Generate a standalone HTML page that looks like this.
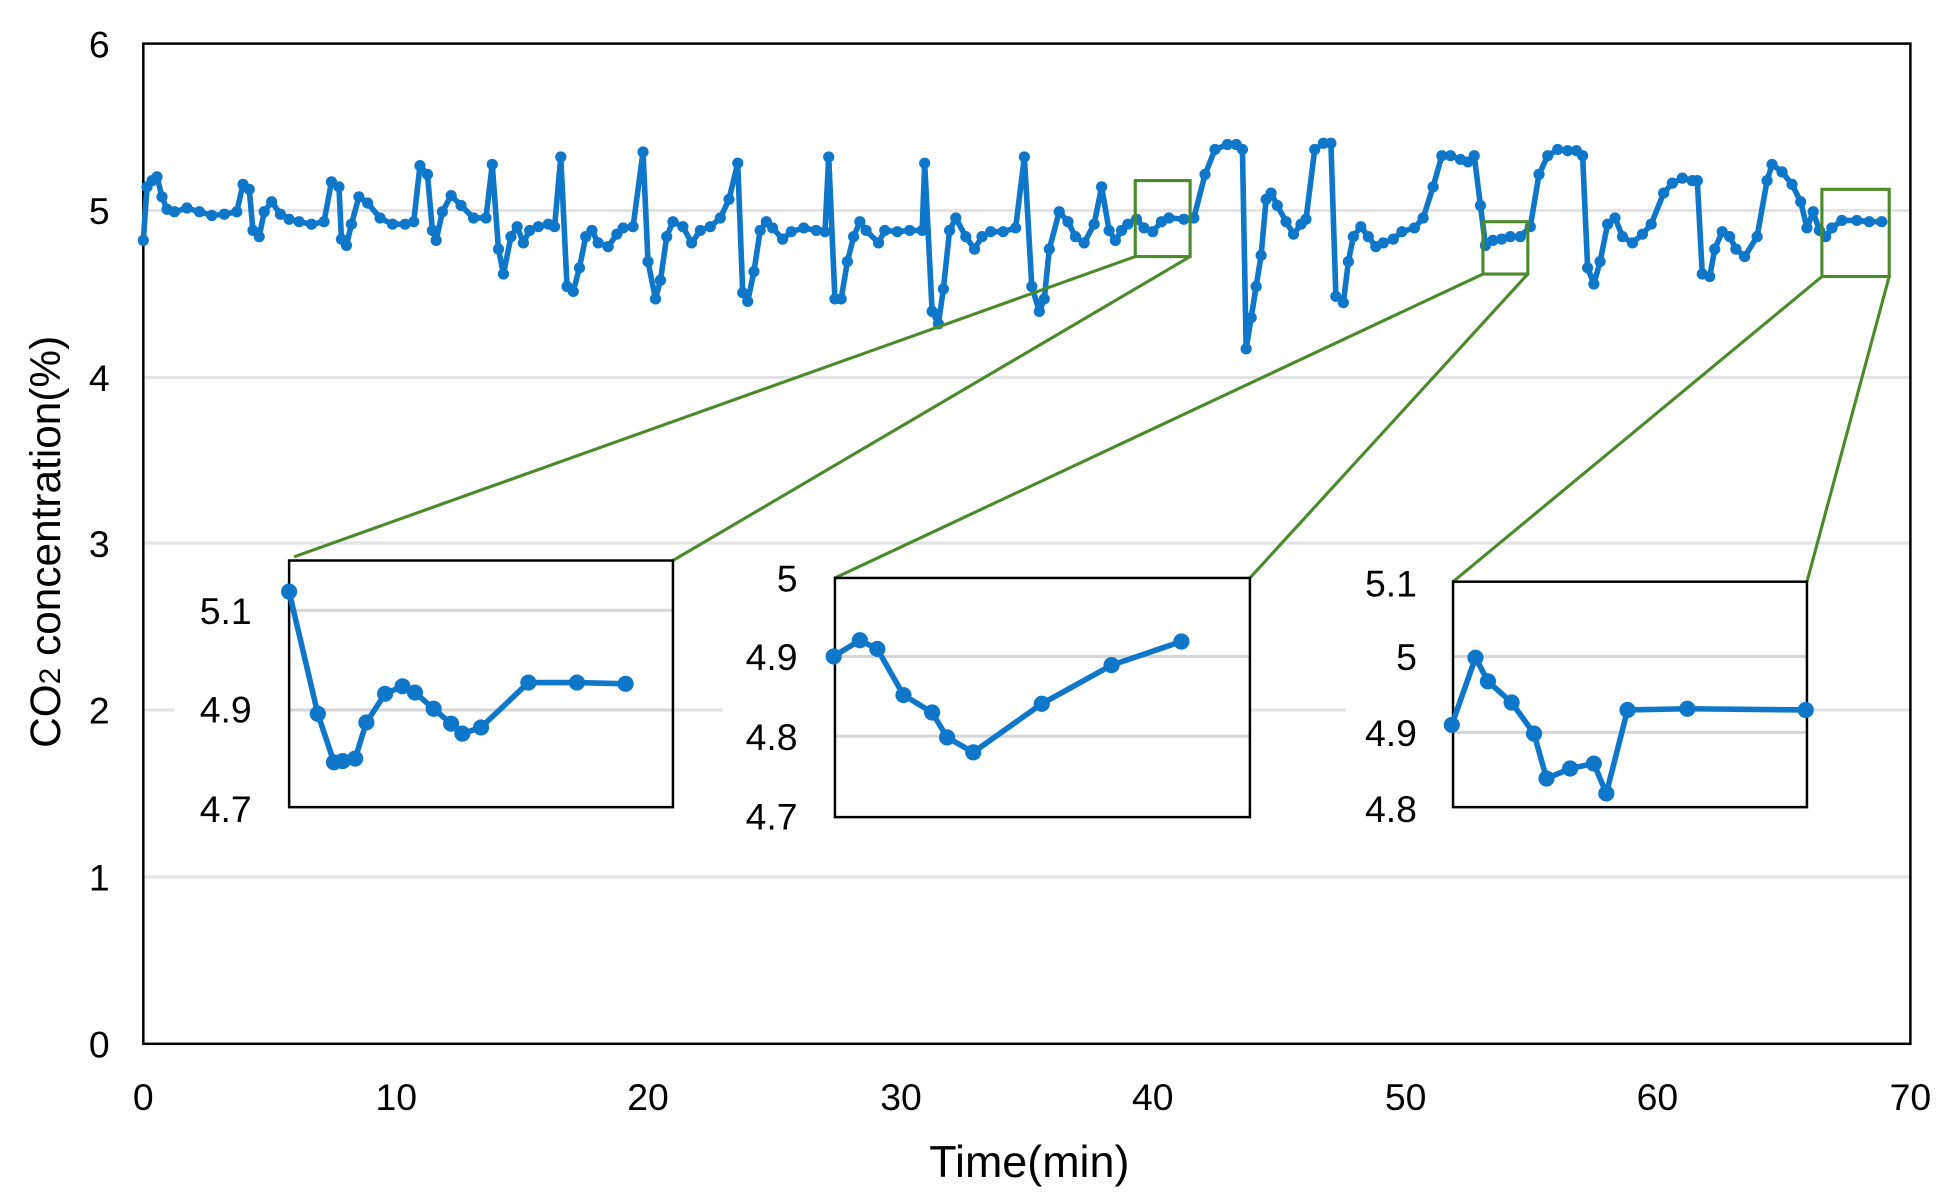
<!DOCTYPE html>
<html><head><style>html,body{margin:0;padding:0;background:#fff}svg{display:block}</style></head><body>
<svg width="1954" height="1202" viewBox="0 0 1568 965" preserveAspectRatio="none" xmlns="http://www.w3.org/2000/svg" font-family="'Liberation Sans',sans-serif">
<defs>
<marker id="m" markerUnits="userSpaceOnUse" markerWidth="12" markerHeight="12" refX="6" refY="6" viewBox="0 0 12 12"><circle cx="6" cy="6" r="4.5" fill="#0f77c9"/></marker>
<marker id="mb" markerUnits="userSpaceOnUse" markerWidth="16" markerHeight="16" refX="8" refY="8" viewBox="0 0 16 16"><circle cx="8" cy="8" r="6.5" fill="#0f77c9"/></marker>
</defs>
<rect width="1568" height="965" fill="#fff"/>
<g stroke="#e3e3e3" stroke-width="2.5">
<line x1="115" y1="704" x2="1533" y2="704"/><line x1="115" y1="570" x2="1533" y2="570"/><line x1="115" y1="436" x2="1533" y2="436"/><line x1="115" y1="303" x2="1533" y2="303"/><line x1="115" y1="169" x2="1533" y2="169"/>
</g>
<rect x="115" y="35" width="1418" height="803" fill="none" stroke="#000" stroke-width="2"/>
<g font-size="30" fill="#000" text-anchor="end">
<text x="88" y="849">0</text><text x="88" y="715">1</text><text x="88" y="581">2</text><text x="88" y="447">3</text><text x="88" y="314">4</text><text x="88" y="180">5</text><text x="88" y="46">6</text>
</g>
<g font-size="30" fill="#000" text-anchor="middle">
<text x="115" y="891">0</text><text x="318" y="891">10</text><text x="520" y="891">20</text><text x="723" y="891">30</text><text x="925" y="891">40</text><text x="1128" y="891">50</text><text x="1330" y="891">60</text><text x="1533" y="891">70</text>
</g>
<text x="826" y="945" font-size="36" text-anchor="middle">Time(min)</text>
<text transform="translate(48,435) rotate(-90)" font-size="34" text-anchor="middle">CO<tspan font-size="24">2</tspan> concentration(%)</text>
<polyline fill="none" stroke="#0f77c9" stroke-width="4.5" stroke-linejoin="round" marker-start="url(#m)" marker-mid="url(#m)" marker-end="url(#m)" points="115,193 118,150 122,145 126,142 130,158 134,168 140,170 150,167 160,170 170,173 180,172 190,170 195,148 200,152 203,185 208,190 212,170 218,162 225,172 232,176 240,178 250,180 260,178 266,146 272,150 274,192 278,197 282,180 288,158 295,163 305,175 315,180 325,180 332,178 337,133 343,140 347,185 350,193 355,170 362,157 370,165 380,175 390,175 395,132 400,200 404,220 410,190 415,182 420,195 425,185 432,182 440,180 445,182 450,126 455,230 460,234 465,215 470,190 475,185 480,195 488,198 495,188 500,183 508,182 516,122 520,210 526,240 530,225 535,190 540,178 548,182 555,195 562,185 570,182 578,175 585,160 592,131 596,235 600,242 605,218 610,185 615,178 620,183 628,192 635,186 645,183 655,185 662,186 665,126 670,240 675,240 680,210 685,190 690,178 695,185 705,195 710,185 720,186 730,185 740,185 742,131 748,250 753,260 757,232 762,185 767,175 775,190 782,200 788,190 795,186 805,186 815,183 822,126 828,230 834,250 838,240 842,200 850,170 857,178 863,190 870,195 878,180 884,150 890,185 895,193 900,185 905,180 912,176 918,183 925,186 932,178 938,175 950,176 958,175 967,140 975,120 985,116 992,116 997,120 1000,280 1004,255 1008,230 1012,205 1016,160 1020,155 1025,165 1032,178 1038,188 1044,180 1048,176 1055,120 1062,115 1068,115 1072,238 1078,243 1082,210 1086,190 1092,182 1098,190 1104,198 1110,195 1118,192 1125,186 1135,183 1142,175 1150,150 1157,125 1164,125 1172,128 1178,130 1183,125 1188,165 1192,197 1198,193 1205,192 1212,190 1220,190 1228,182 1235,140 1242,125 1250,120 1258,121 1265,121 1270,125 1274,215 1279,228 1284,210 1290,180 1296,175 1302,190 1310,195 1318,188 1325,180 1335,155 1342,147 1350,143 1358,145 1362,145 1366,220 1372,222 1376,200 1382,186 1388,190 1393,200 1400,206 1410,190 1418,145 1422,132 1430,138 1438,148 1445,162 1450,183 1455,170 1460,185 1465,190 1470,183 1478,177 1490,177 1500,178 1510,178"/>
<g fill="none" stroke="#4a8a2a" stroke-width="2.5">
<rect x="911" y="145" width="44" height="61"/><rect x="1190" y="178" width="36" height="42"/><rect x="1462" y="152" width="54" height="70"/>
<line x1="911" y1="206" x2="236" y2="447"/><line x1="955" y1="206" x2="540" y2="450"/>
<line x1="1190" y1="220" x2="670" y2="464"/><line x1="1226" y1="220" x2="1003" y2="464"/>
<line x1="1462" y1="222" x2="1166" y2="467"/><line x1="1516" y1="222" x2="1450" y2="467"/>
</g>
<rect x="140" y="452" width="400" height="215" fill="#fff"/>
<g stroke="#d6d6d6" stroke-width="2.5"><line x1="232" y1="490" x2="540" y2="490"/><line x1="232" y1="570" x2="540" y2="570"/></g>
<rect x="232" y="450" width="308" height="198" fill="none" stroke="#000" stroke-width="2"/>
<g font-size="30" text-anchor="end"><text x="202" y="501">5.1</text><text x="202" y="580">4.9</text><text x="202" y="660">4.7</text></g>
<polyline fill="none" stroke="#0f77c9" stroke-width="4.5" marker-start="url(#mb)" marker-mid="url(#mb)" marker-end="url(#mb)" points="232,475 255,573 268,612 275,611 285,609 294,580 309,557 323,551 333,556 348,569 362,581 371,589 386,584 424,548 463,548 502,549"/>
<rect x="580" y="466" width="423" height="208" fill="#fff"/>
<g stroke="#d6d6d6" stroke-width="2.5"><line x1="670" y1="527" x2="1003" y2="527"/><line x1="670" y1="591" x2="1003" y2="591"/></g>
<rect x="670" y="464" width="333" height="192" fill="none" stroke="#000" stroke-width="2"/>
<g font-size="30" text-anchor="end"><text x="640" y="475">5</text><text x="640" y="538">4.9</text><text x="640" y="602">4.8</text><text x="640" y="666">4.7</text></g>
<polyline fill="none" stroke="#0f77c9" stroke-width="4.5" marker-start="url(#mb)" marker-mid="url(#mb)" marker-end="url(#mb)" points="669,527 690,514 704,521 725,558 748,572 760,592 781,604 836,565 892,534 948,515"/>
<rect x="1080" y="469" width="370" height="195" fill="#fff"/>
<g stroke="#d6d6d6" stroke-width="2.5"><line x1="1166" y1="527" x2="1450" y2="527"/><line x1="1166" y1="588" x2="1450" y2="588"/></g>
<rect x="1166" y="467" width="284" height="181" fill="none" stroke="#000" stroke-width="2"/>
<g font-size="30" text-anchor="end"><text x="1137" y="479">5.1</text><text x="1137" y="538">5</text><text x="1137" y="599">4.9</text><text x="1137" y="660">4.8</text></g>
<polyline fill="none" stroke="#0f77c9" stroke-width="4.5" marker-start="url(#mb)" marker-mid="url(#mb)" marker-end="url(#mb)" points="1165,582 1184,528 1194,547 1213,564 1231,589 1241,625 1260,617 1279,613 1289,637 1306,570 1354,569 1449,570"/>
</svg>
</body></html>
